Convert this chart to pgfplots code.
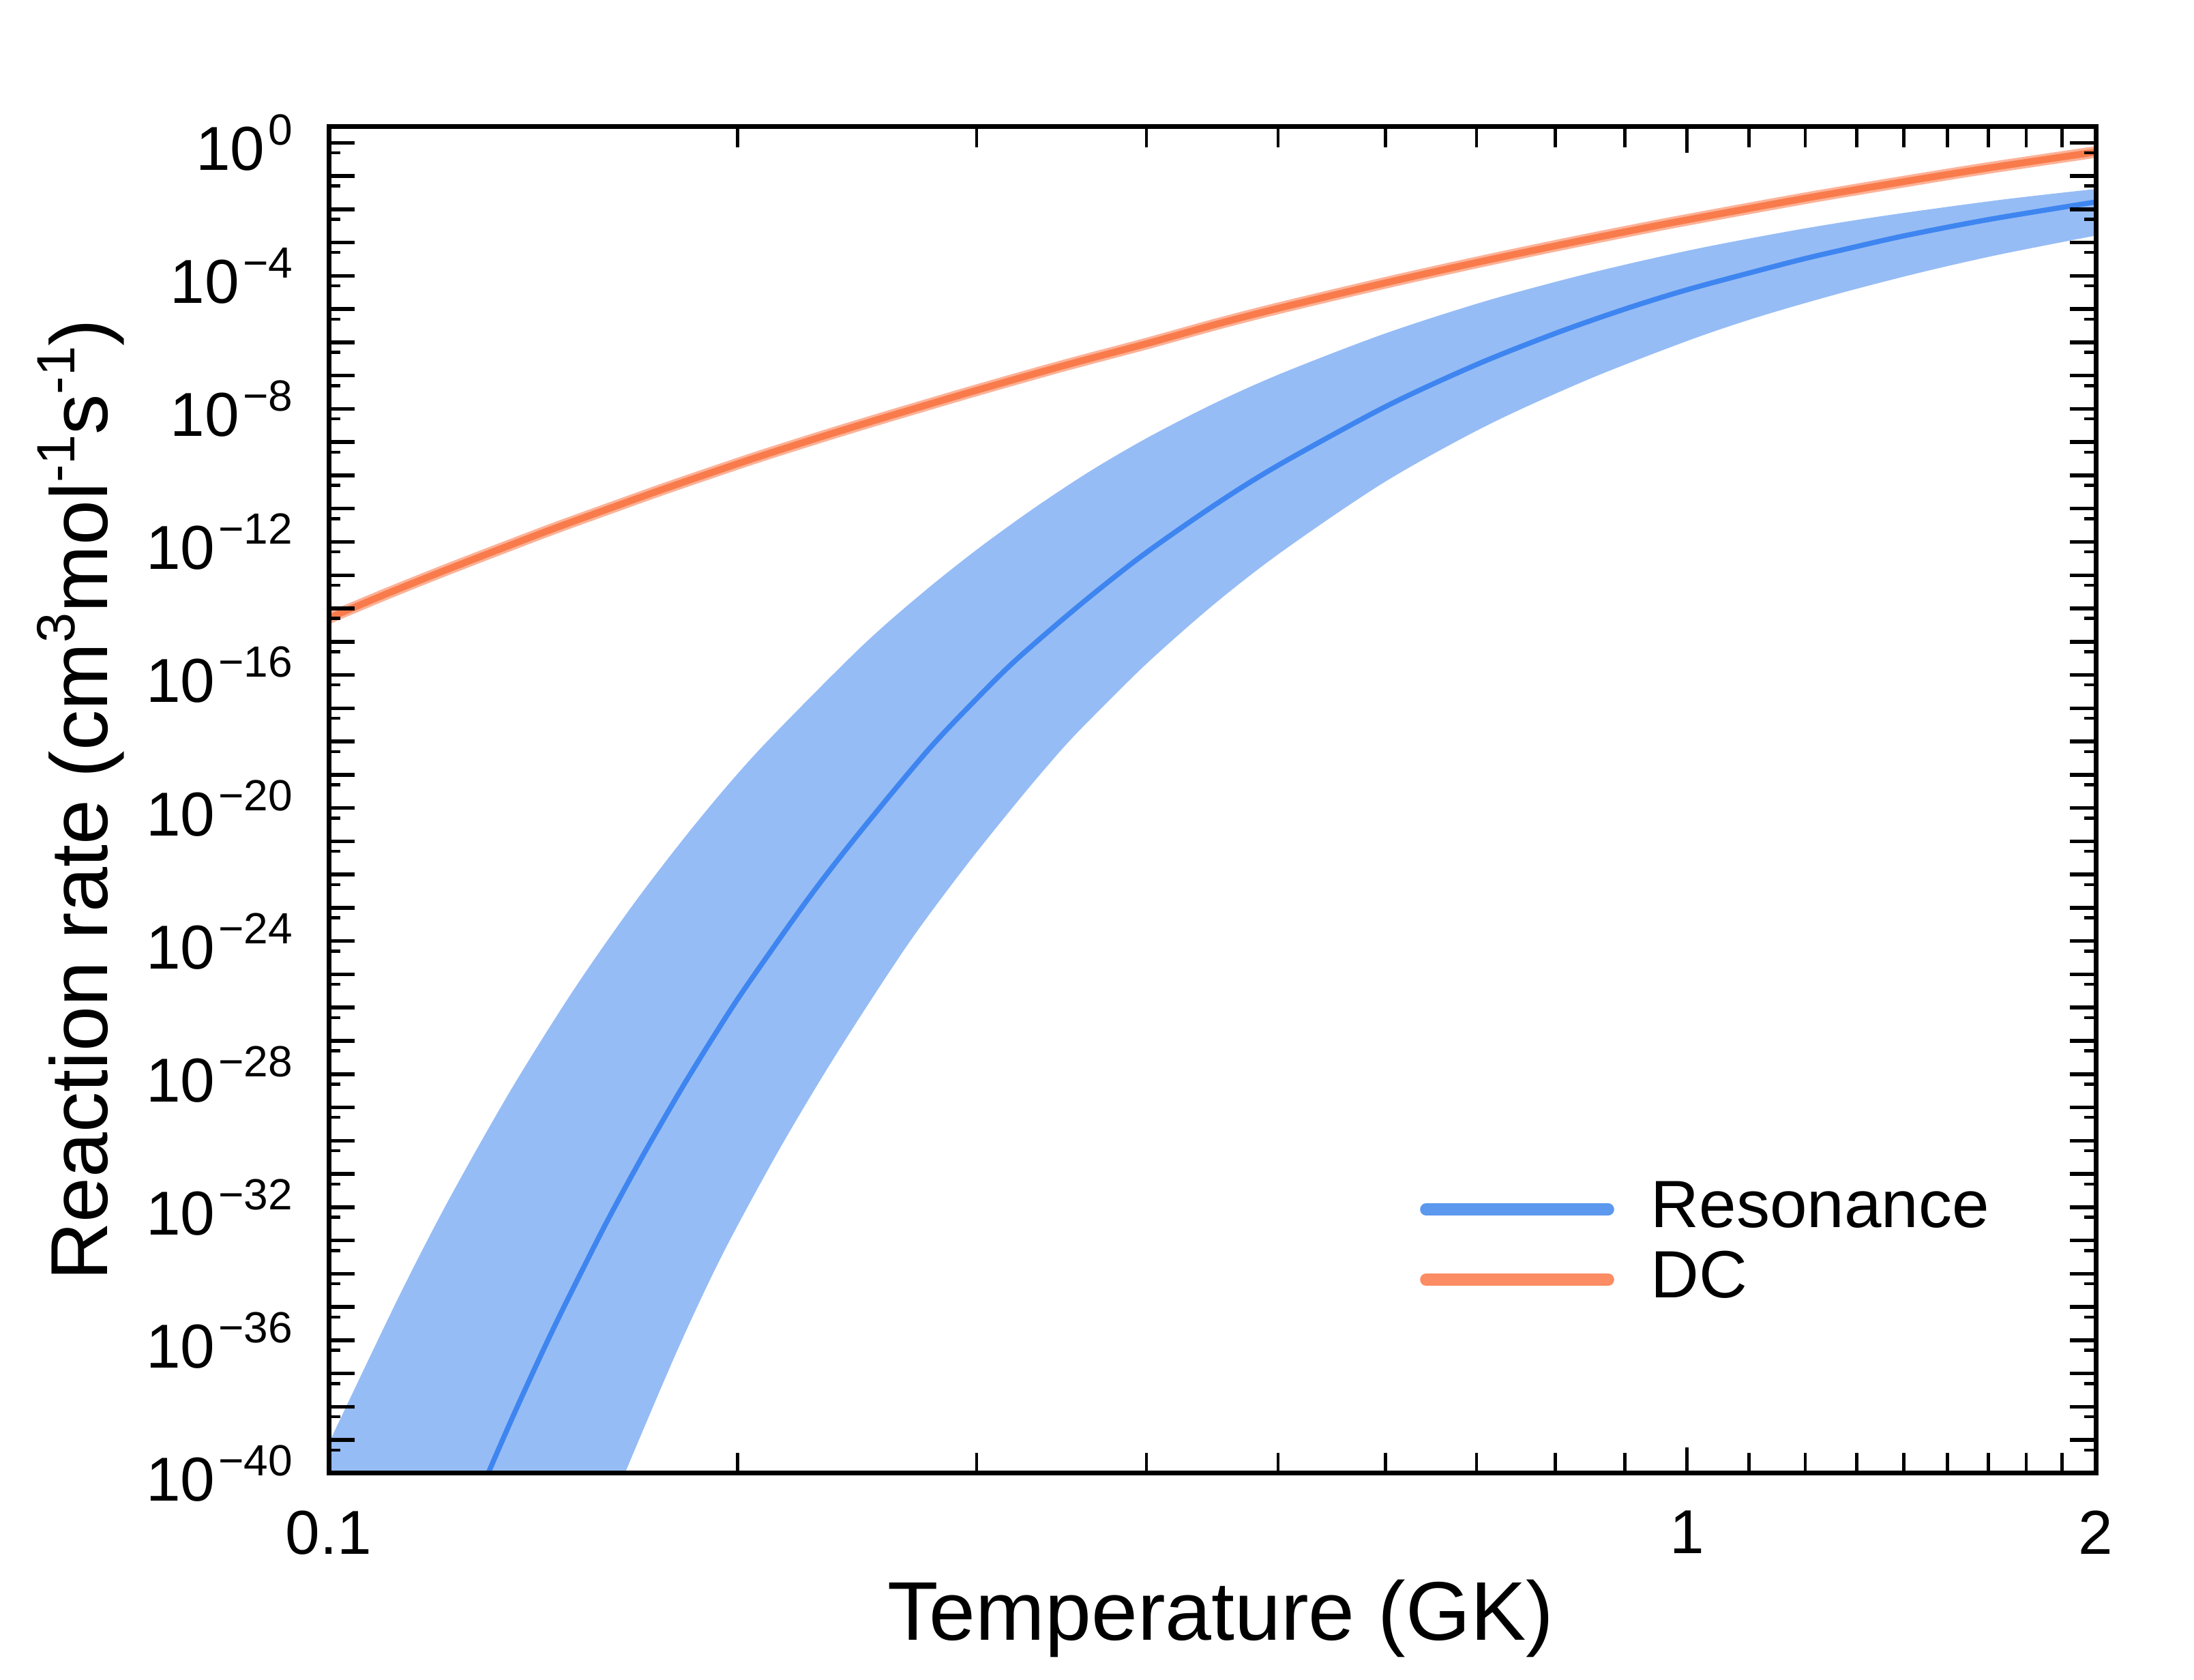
\documentclass[border=0pt]{standalone}
\usepackage{fontspec}
\setmainfont{Liberation Sans}
\usepackage{pgfplots}
\pgfplotsset{compat=1.18}
\usepgfplotslibrary{fillbetween}
\definecolor{bandblue}{RGB}{150,188,245}
\definecolor{lineblue}{RGB}{62,133,240}
\definecolor{dcband}{RGB}{252,178,152}
\definecolor{dcline}{RGB}{249,123,75}
\definecolor{legblue}{RGB}{91,152,238}
\definecolor{legorange}{RGB}{251,140,99}
\newcommand{\yl}[1]{10\kern0.5bp\raisebox{3.7bp}{\fontsize{6.4bp}{6.4bp}\selectfont −#1}}
\newcommand{\ylz}{10\kern0.5bp\raisebox{3.7bp}{\fontsize{6.4bp}{6.4bp}\selectfont 0}}
\newcommand{\sps}[1]{\raisebox{4.8bp}{\fontsize{7.9bp}{7.9bp}\selectfont #1}}
\begin{document}
\begin{tikzpicture}
\begin{axis}[
  at={(48.2bp,30.3bp)}, anchor=south west,
  scale only axis, width=259.1bp, height=197.4bp,
  xmode=log, ymode=log,
  xmin=0.1, xmax=2, ymin=1e-40, ymax=3,
  axis on top,
  axis line style={line width=0.7bp, black},
  tick align=inside,
  major tick length=3.8bp, minor tick length=1.7bp,
  major tick style={line width=0.55bp, black},
  minor tick style={line width=0.45bp, black},
  minor x tick style={/pgfplots/minor tick length=3.0bp},
  minor y tick style={/pgfplots/minor tick length=1.7bp},
  xtick={0.1,1,2}, xticklabels={0.1,1,2},
  minor xtick={0.2,0.3,0.4,0.5,0.6,0.7,0.8,0.9,1.1111,1.2222,1.3333,1.4444,1.5556,1.6667,1.7778,1.8889},
  ytick={1e-40,1e-39,1e-38,1e-37,1e-36,1e-35,1e-34,1e-33,1e-32,1e-31,1e-30,1e-29,1e-28,1e-27,1e-26,1e-25,1e-24,1e-23,1e-22,1e-21,1e-20,1e-19,1e-18,1e-17,1e-16,1e-15,1e-14,1e-13,1e-12,1e-11,1e-10,1e-9,1e-8,1e-7,1e-6,1e-5,1e-4,1e-3,1e-2,1e-1,1},
  yticklabels={\yl{40},,,,\yl{36},,,,\yl{32},,,,\yl{28},,,,\yl{24},,,,\yl{20},,,,\yl{16},,,,\yl{12},,,,\yl{8},,,,\yl{4},,,,\ylz},
  minor ytick={5e-40,5e-39,5e-38,5e-37,5e-36,5e-35,5e-34,5e-33,5e-32,5e-31,5e-30,5e-29,5e-28,5e-27,5e-26,5e-25,5e-24,5e-23,5e-22,5e-21,5e-20,5e-19,5e-18,5e-17,5e-16,5e-15,5e-14,5e-13,5e-12,5e-11,5e-10,5e-9,5e-8,5e-7,5e-6,5e-5,5e-4,5e-3,5e-2,5e-1},
  tick label style={font=\fontsize{9.1bp}{10bp}\selectfont},
  yticklabel style={anchor=east, inner sep=0pt, xshift=-5.1bp},
  xticklabel style={anchor=north, inner sep=0pt, yshift=-5.3bp},
  every axis x label/.style={at={(axis description cs:0.5048,-0.1241)}, anchor=base, font=\fontsize{12.2bp}{14bp}\selectfont},
  every axis y label/.style={at={(axis description cs:-0.1254,0.5)}, rotate=90, anchor=base, font=\fontsize{11.85bp}{14bp}\selectfont},
  xlabel={Temperature (GK)},
  ylabel={Reaction rate (cm\sps{3}mol\sps{-1}s\sps{-1})},
  legend image code/.code={\draw[#1,line cap=round,line width=1.76bp] (0bp,0bp) -- (26.7bp,0bp);},
  legend cell align=left,
  legend style={at={(axis description cs:0.6176,0.2168)}, anchor=north west,
    draw=none, fill=none, inner sep=0pt, outer sep=0pt,
    column sep=5.4bp, row sep=2.0bp,
    nodes={inner sep=0pt},
    font=\fontsize{9.8bp}{11bp}\selectfont},
]
% Resonance upper edge
\addplot[name path=up, draw=none, smooth, forget plot] coordinates {
(0.1,7.94e-40) (0.1125,1.86e-35) (0.1226,1.70e-32) (0.1362,3.39e-29) (0.1514,3.31e-26)
(0.1682,1.55e-23) (0.1869,3.98e-21) (0.2077,5.89e-19) (0.2458,6.17e-16) (0.2731,2.75e-14)
(0.3005,6.17e-13) (0.3308,1.05e-11) (0.364,1.38e-10) (0.401,1.38e-9) (0.449,1.48e-8)
(0.5037,1.20e-7) (0.599,1.82e-6) (0.7124,1.78e-5) (0.8477,1.20e-4) (1.008,6.03e-4)
(1.2,2.34e-3) (1.4,6.46e-3) (1.7,1.91e-2) (2.0,4.07e-2)
};
% Resonance lower edge
\addplot[name path=lo, draw=none, smooth, forget plot] coordinates {
(0.1,5.01e-42) (0.1604,5.01e-42) (0.1651,9.33e-41) (0.1808,5.50e-37) (0.1952,4.17e-34)
(0.2149,5.89e-31) (0.2365,4.07e-28) (0.2666,7.41e-25) (0.2948,1.91e-22) (0.3245,2.51e-20)
(0.347,6.17e-19) (0.3642,4.90e-18) (0.4008,2.34e-16) (0.4487,1.35e-14) (0.5037,5.25e-13)
(0.599,6.31e-11) (0.7124,3.16e-9) (0.8477,7.94e-8) (1.008,1.23e-6) (1.134,6.17e-6)
(1.295,2.95e-5) (1.479,1.20e-4) (1.69,4.17e-4) (2.0,1.62e-3)
};
\addplot[bandblue, forget plot] fill between[of=up and lo];
% Resonance
\addplot[lineblue, line width=0.75bp, smooth, forget plot] coordinates {
(0.127,4.79e-42) (0.1311,1.05e-40) (0.1369,6.03e-39) (0.1437,4.57e-37) (0.1492,1.12e-35)
(0.1581,1.26e-33) (0.1643,2.45e-32) (0.1723,8.13e-31) (0.1826,4.79e-29) (0.1934,2.14e-27)
(0.2029,4.27e-26) (0.2254,1.86e-23) (0.2458,1.78e-21) (0.2758,5.13e-19) (0.3005,2.09e-17)
(0.3214,3.09e-16) (0.3572,1.26e-14) (0.3969,3.80e-13) (0.4487,1.26e-11) (0.5,2.00e-10)
(0.6,1.17e-8) (0.7,2.14e-7) (0.8,1.86e-6) (0.9,1.00e-5) (1.0,3.80e-5)
(1.134,1.51e-4) (1.222,3.31e-4) (1.295,5.75e-4) (1.444,1.58e-3) (1.667,4.90e-3) (2.0,1.66e-2)
};
% DC band and line
\addplot[dcband, line width=1.7bp, smooth, forget plot] coordinates {
(0.1,5.13e-15) (0.11,2.63e-14) (0.121,1.26e-13) (0.133,5.62e-13) (0.146,2.40e-12)
(0.161,1.02e-11) (0.177,4.07e-11) (0.2,2.24e-10) (0.215,5.89e-10) (0.2365,2.00e-9)
(0.26,6.46e-9) (0.3,3.63e-8) (0.347,1.95e-7) (0.4,9.12e-7) (0.449,3.39e-6)
(0.5,1.05e-5) (0.6,6.17e-5) (0.7,2.51e-4) (0.8,7.94e-4) (0.9,2.09e-3) (1.0,4.79e-3)
(1.222,2.14e-2) (1.444,6.76e-2) (1.667,1.74e-1) (2.0,5.25e-1)
};
\addplot[dcline, line width=1.0bp, smooth, forget plot] coordinates {
(0.1,5.13e-15) (0.11,2.63e-14) (0.121,1.26e-13) (0.133,5.62e-13) (0.146,2.40e-12)
(0.161,1.02e-11) (0.177,4.07e-11) (0.2,2.24e-10) (0.215,5.89e-10) (0.2365,2.00e-9)
(0.26,6.46e-9) (0.3,3.63e-8) (0.347,1.95e-7) (0.4,9.12e-7) (0.449,3.39e-6)
(0.5,1.05e-5) (0.6,6.17e-5) (0.7,2.51e-4) (0.8,7.94e-4) (0.9,2.09e-3) (1.0,4.79e-3)
(1.222,2.14e-2) (1.444,6.76e-2) (1.667,1.74e-1) (2.0,5.25e-1)
};
\addlegendimage{legblue}
\addlegendentry{Resonance}
\addlegendimage{legorange}
\addlegendentry{DC}
\end{axis}
\pgfresetboundingbox
\path[use as bounding box] (0,0) rectangle (321.7bp,246.3bp);
\end{tikzpicture}
\end{document}
